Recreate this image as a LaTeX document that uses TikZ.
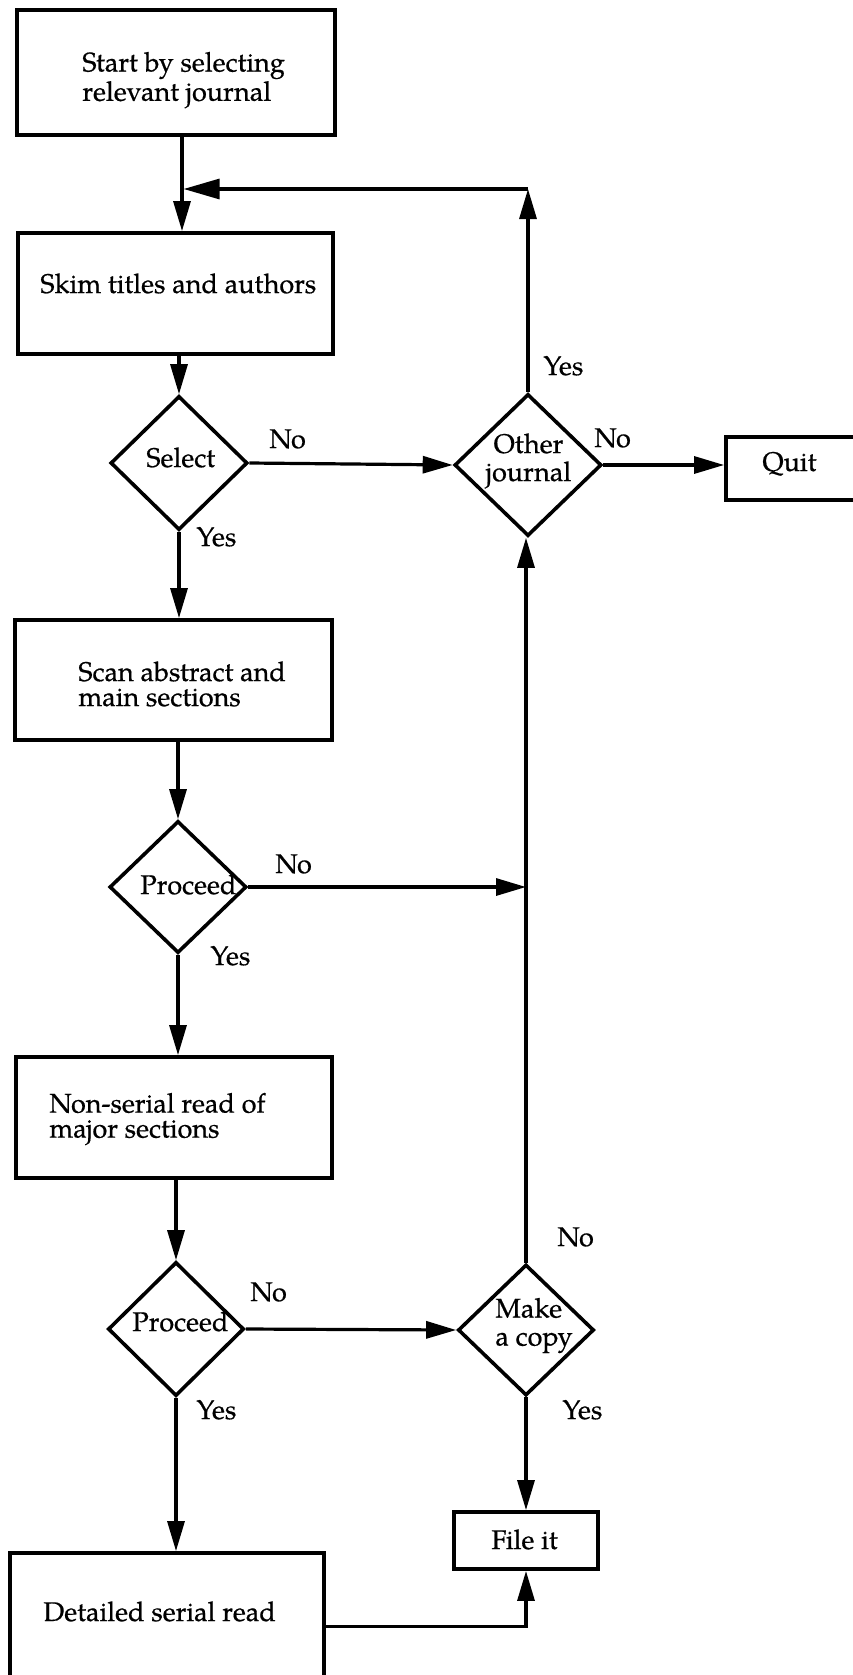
\documentclass[tikz,border=0pt]{standalone}
\usepackage{fontspec}
\setmainfont{TeX Gyre Pagella}[FakeBold=0.6]
\usetikzlibrary{shapes.geometric,arrows.meta}

\tikzset{
  box/.style={draw, rectangle, line width=1.9pt, inner sep=0pt},
  decision/.style={draw, diamond, line width=1.8pt, inner sep=0pt},
  txt/.style={inner sep=0pt, font=\fontsize{13.5pt}{12.5pt}\selectfont},
  dtxt/.style={inner sep=0pt, font=\fontsize{13.5pt}{14pt}\selectfont},
  flow/.style={line width=1.6pt, -{Triangle[length=15pt,width=8.5pt]}},
  longflow/.style={line width=1.6pt, -{Triangle[length=18pt,width=10pt]}},
}

\begin{document}
\begin{tikzpicture}[x=0.5pt, y=-0.5pt]
\useasboundingbox (0,0) rectangle (852,1675);

% process boxes
\node[box, minimum width=159pt, minimum height=62.5pt] (start) at (176,72.5) {};
\node[box, minimum width=157.5pt, minimum height=60.5pt] (skim) at (175.5,293.5) {};
\node[box, minimum width=158.5pt, minimum height=60pt] (scan) at (173.5,680) {};
\node[box, minimum width=158pt, minimum height=60.5pt] (nons) at (174,1117.5) {};
\node[box, minimum width=157pt, minimum height=73.5pt] (det)  at (167,1626.5) {};
\node[box, minimum width=72pt, minimum height=28.5pt]  (file) at (526,1540.5) {};
\node[box, minimum width=77pt, minimum height=31.5pt]  (quit) at (803,468.5) {};

% decisions
\node[decision, minimum width=68.5pt, minimum height=67pt] (sel)   at (179,463) {};
\node[decision, minimum width=73.5pt, minimum height=71pt] (other) at (528,465) {};
\node[decision, minimum width=68.5pt, minimum height=66pt] (pro1)  at (178,887) {};
\node[decision, minimum width=68pt, minimum height=67pt]   (pro2)  at (176,1329) {};
\node[decision, minimum width=68pt, minimum height=65.5pt] (make)  at (526,1330) {};

% box texts
\node[txt, align=left, anchor=north west] (startT) at (82,51.5) {Start by selecting\\relevant journal};
\node[txt, anchor=base west] (skimT) at (40,293) {Skim titles and authors};
\node[txt, align=left, anchor=north west] (scanT) at (78,661) {Scan abstract and\\main sections};
\node[txt, align=left, anchor=north west] (nonsT) at (49,1092.5) {Non-serial read of\\major sections};
\node[txt, anchor=base west] (detT)  at (43,1621) {Detailed serial read};
\node[txt, anchor=base west] (fileT) at (491,1549) {File it};
\node[txt, anchor=base west] (quitT) at (762,471) {Quit};

% decision texts
\node[dtxt, anchor=base west] (selT)  at (146,467) {Select};
\node[dtxt, align=center, anchor=north] (otherT) at (528.5,433) {Other\\journal};
\node[dtxt, anchor=base west] (pro1T) at (140,894) {Proceed};
\node[dtxt, anchor=base west] (pro2T) at (132,1331) {Proceed};
\node[dtxt, align=left, anchor=north west] (makeT) at (495,1297.5) {Make\\a copy};

% branch labels
\node[txt, anchor=base west] (selNo)    at (269,448)  {No};
\node[txt, anchor=base west] (selYes)   at (196,546)  {Yes};
\node[txt, anchor=base west] (otherNo)  at (594,447)  {No};
\node[txt, anchor=base west] (otherYes) at (543,375)  {Yes};
\node[txt, anchor=base west] (pro1No)   at (275,873)  {No};
\node[txt, anchor=base west] (pro1Yes)  at (210,965)  {Yes};
\node[txt, anchor=base west] (pro2No)   at (250,1301) {No};
\node[txt, anchor=base west] (pro2Yes)  at (196,1419) {Yes};
\node[txt, anchor=base west] (makeNo)   at (557,1246) {No};
\node[txt, anchor=base west] (makeYes)  at (562,1419) {Yes};

% return path to the journal loop
\coordinate (loop) at (528,189);

% main column
\draw[flow] ([xshift=3pt]start.south) -- ([xshift=3pt]start.south |- skim.north);
\draw[flow] (skim.south -| sel.north) -- (sel.north);
\draw[flow] (sel.south) -- (sel.south |- scan.north);
\draw[flow] (pro1.north |- scan.south) -- (pro1.north);
\draw[flow] (pro1.south) -- (pro1.south |- nons.north);
\draw[flow] (pro2.north |- nons.south) -- (pro2.north);
\draw[flow] (pro2.south) -- (pro2.south |- det.north);

% side branches
\draw[flow] (sel.east) -- (other.west);
\draw[flow] (other.east) -- (other.east -| quit.west);
\draw[flow] (other.north) -- (other.north |- loop);
\draw[longflow] (other.north |- loop) -- ([xshift=3.8pt]start.south |- loop);
\draw[flow] (pro1.east) -- (pro1.east -| make.north);
\draw[flow] (pro2.east) -- (make.west);
\draw[flow] (make.north) -- (make.north |- other.south);
\draw[flow] (make.south) -- (make.south |- file.north);
\draw[flow] (det.east) -| (file.south);
\end{tikzpicture}
\end{document}
